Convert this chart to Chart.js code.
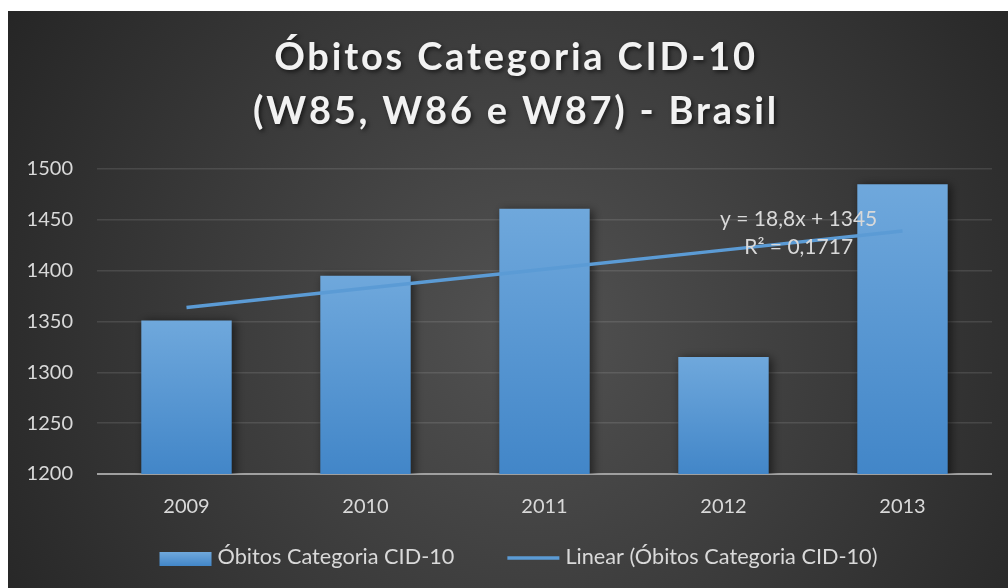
<!DOCTYPE html>
<html><head><meta charset="utf-8">
<script src="https://cdn.jsdelivr.net/npm/chart.js@4.4.1/dist/chart.umd.min.js"></script>
<style>
html,body{margin:0;padding:0;background:#fff;}
#wrap{position:absolute;left:8px;top:11px;width:1000px;height:577px;}
</style></head><body>
<div id="wrap"><canvas id="c"></canvas></div>
<script>
const categories = ['2009','2010','2011','2012','2013'];
const obitos = [1351, 1395, 1461, 1315, 1485];
const trend = [1363.8, 1382.6, 1401.4, 1420.2, 1439.0];
const yTicks = [1200, 1250, 1300, 1350, 1400, 1450, 1500];
const titleLines = ['Óbitos Categoria CID-10', '(W85, W86 e W87) - Brasil'];
const seriesName = 'Óbitos Categoria CID-10';
const trendName = 'Linear (Óbitos Categoria CID-10)';
const trendLabel = ['y = 18,8x + 1345', 'R² = 0,1717'];

const FONT = 'Lato, "Open Sans", sans-serif';
const TXT = '#d9d9d9';
const BLUE = '#5b9bd5';

const bgPlugin = {
  id: 'bg',
  beforeDraw(chart) {
    const {ctx, width, height} = chart;
    const g = ctx.createRadialGradient(width * 0.52, height * 0.55, 0, width * 0.52, height * 0.55, 620);
    g.addColorStop(0, '#525252');
    g.addColorStop(1, '#252525');
    ctx.save();
    ctx.fillStyle = g;
    ctx.fillRect(0, 0, width, height);
    ctx.restore();
  },
  beforeDatasetDraw(chart, args) {
    if (args.index === 0) {
      const ctx = chart.ctx;
      ctx.save();
      ctx.shadowColor = 'rgba(0,0,0,0.55)';
      ctx.shadowBlur = 9;
      ctx.shadowOffsetX = 3;
      ctx.shadowOffsetY = 1;
    }
  },
  afterDatasetDraw(chart, args) {
    if (args.index === 0) chart.ctx.restore();
  },
  afterDraw(chart) {
    const ctx = chart.ctx;
    // title
    ctx.save();
    ctx.textAlign = 'center';
    ctx.textBaseline = 'middle';
    ctx.fillStyle = '#f2f2f2';
    ctx.font = 'bold 38px ' + FONT;
    try { ctx.letterSpacing = '2.8px'; } catch (e) {}
    ctx.shadowColor = 'rgba(0,0,0,0.6)';
    ctx.shadowBlur = 4;
    ctx.shadowOffsetX = 2;
    ctx.shadowOffsetY = 2;
    ctx.fillText(titleLines[0], 508, 47);
    ctx.fillText(titleLines[1], 508, 101);
    ctx.restore();

    // trendline equation label
    const xs = chart.scales.x, ys = chart.scales.y;
    const x3 = xs.getPixelForValue(3), x4 = xs.getPixelForValue(4);
    const cx = x3 + 0.42 * (x4 - x3);
    ctx.save();
    ctx.textAlign = 'center';
    ctx.textBaseline = 'middle';
    ctx.fillStyle = TXT;
    ctx.font = '21px ' + FONT;
    ctx.fillText(trendLabel[0], cx, ys.getPixelForValue(1450.8));
    ctx.fillText(trendLabel[1], cx, ys.getPixelForValue(1423.3));
    ctx.restore();

    // legend
    const ds = chart.data.datasets;
    ctx.save();
    ctx.font = '21.7px ' + FONT;
    ctx.textBaseline = 'middle';
    ctx.textAlign = 'left';
    const symW = 52, gapT = 6, gapItem = 53, ly = 546;
    const widths = ds.map(d => ctx.measureText(d.label).width);
    let total = 0;
    widths.forEach((w, i) => { total += symW + gapT + w + (i ? gapItem : 0); });
    let x = 510.5 - total / 2;
    ds.forEach((d, i) => {
      if (i) x += gapItem;
      if (d.type === 'line') {
        ctx.strokeStyle = BLUE;
        ctx.lineWidth = 3.5;
        ctx.beginPath();
        ctx.moveTo(x, ly + 1);
        ctx.lineTo(x + symW, ly + 1);
        ctx.stroke();
      } else {
        const g = ctx.createLinearGradient(0, ly - 5, 0, ly + 9);
        g.addColorStop(0, '#6fa8dc');
        g.addColorStop(1, '#4286c8');
        ctx.fillStyle = g;
        ctx.fillRect(x, ly - 5, symW, 14);
      }
      x += symW + gapT;
      ctx.fillStyle = TXT;
      ctx.fillText(d.label, x, ly);
      x += widths[i];
    });
    ctx.restore();
  }
};

function barFill(c) {
  const chart = c.chart;
  const area = chart.chartArea;
  if (!area || c.type !== 'data') return BLUE;
  const top = chart.scales.y.getPixelForValue(c.raw);
  const g = chart.ctx.createLinearGradient(0, top, 0, area.bottom);
  g.addColorStop(0, '#6fa8dc');
  g.addColorStop(1, '#4286c8');
  return g;
}

new Chart(document.getElementById('c'), {
  data: {
    labels: categories,
    datasets: [
      {
        type: 'bar',
        label: seriesName,
        data: obitos,
        backgroundColor: barFill,
        borderWidth: 0,
        categoryPercentage: 1,
        barPercentage: 0.505,
        order: 2
      },
      {
        type: 'line',
        label: trendName,
        data: trend,
        borderColor: BLUE,
        backgroundColor: BLUE,
        borderWidth: 3.5,
        pointRadius: 0,
        pointHoverRadius: 0,
        fill: false,
        tension: 0,
        order: 1
      }
    ]
  },
  options: {
    responsive: true,
    maintainAspectRatio: false,
    animation: false,
    layout: { padding: { top: 158, left: 10, right: 16, bottom: 52 } },
    scales: {
      x: {
        grid: { display: false },
        border: { display: false },
        ticks: { color: TXT, font: { family: FONT, size: 20 }, padding: 13 },
        afterFit(s) { s.height = 62; }
      },
      y: {
        min: yTicks[0],
        max: yTicks[yTicks.length - 1],
        border: { display: false },
        grid: {
          drawTicks: false,
          color: c => c.tick && c.tick.value === yTicks[0] ? '#a0a0a0' : 'rgba(255,255,255,0.11)',
          lineWidth: c => c.tick && c.tick.value === yTicks[0] ? 2 : 1.5
        },
        ticks: {
          stepSize: yTicks[1] - yTicks[0],
          color: TXT,
          font: { family: FONT, size: 20 },
          padding: 24,
          callback: v => String(v)
        },
        afterFit(s) { s.width = 79; }
      }
    },
    plugins: {
      title: { display: false },
      tooltip: { enabled: false },
      legend: { display: false }
    }
  },
  plugins: [bgPlugin]
});
</script>
</body></html>
